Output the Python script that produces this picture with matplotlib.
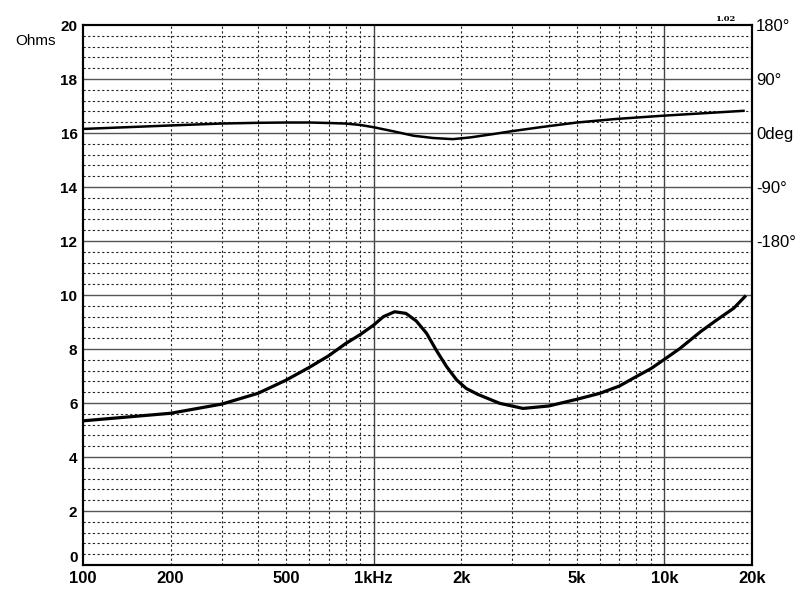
import matplotlib.pyplot as plt
import numpy as np

# impedance magnitude (ohms) vs frequency (Hz)
imp_freq = [100, 200, 300, 400, 500, 600, 700, 800, 900, 1000, 1080, 1180, 1290,
            1400, 1520, 1640, 1780, 1930, 2080, 2280, 2710, 3260, 4000, 5000, 6000,
            7000, 8000, 9000, 10000, 11300, 13300, 15100, 17300, 18900]
imp_ohms = [5.34, 5.62, 5.96, 6.36, 6.85, 7.32, 7.75, 8.20, 8.54, 8.89, 9.20, 9.38, 9.32,
            9.04, 8.58, 7.96, 7.35, 6.85, 6.54, 6.32, 5.99, 5.80, 5.89, 6.14, 6.36,
            6.63, 6.98, 7.28, 7.62, 8.02, 8.64, 9.07, 9.51, 9.94]

# phase (degrees) vs frequency (Hz)
ph_freq = [100, 200, 300, 400, 500, 600, 700, 800, 900, 1000, 1170, 1370, 1600,
           1870, 2150, 2580, 2960, 3730, 5000, 6800, 10000, 18700]
ph_deg = [6.8, 12.6, 15.8, 17.0, 17.5, 17.5, 16.7, 15.8, 13.4, 9.6, 2.8, -4.5, -8.3,
          -10.2, -7.3, -1.7, 2.8, 9.6, 17.5, 23.4, 29.0, 37.0]

x_ticks = [100, 200, 500, 1000, 2000, 5000, 10000, 20000]
x_labels = ["100", "200", "500", "1kHz", "2k", "5k", "10k", "20k"]
y_ticks = list(range(0, 21, 2))
ph_ticks = [180, 90, 0, -90, -180]
ph_labels = ["180°", "90°", "0deg", "-90°", "-180°"]

plt.rcParams['font.family'] = ['Liberation Sans', 'DejaVu Sans']

fig = plt.figure(figsize=(8, 6), dpi=100, facecolor="white")
ax = fig.add_axes([0.10375, 0.0583, 0.83625, 0.9])
ax.set_xscale("log")
ax.set_xlim(100, 20000)
ax.set_ylim(0, 20)

# grid
dot = dict(color="#222222", lw=0.8, ls=(0, (2, 2.2)), zorder=1)
for dec in [100, 1000]:
    for m in range(2, 10):
        ax.axvline(dec * m, **dot)
for v in [1000, 10000]:
    ax.axvline(v, color="#444444", lw=1.0, zorder=1)
for h in np.arange(0.4, 20, 0.4):
    if abs(h / 2 - round(h / 2)) > 0.01:
        ax.axhline(h, **dot)
for h in range(2, 20, 2):
    ax.axhline(h, color="#555555", lw=1.0, zorder=1)

ax.plot(imp_freq, imp_ohms, color="black", lw=2.3, zorder=3, solid_joinstyle="round")

ax2 = ax.twinx()
ax2.set_ylim(-720, 180)
ax2.plot(ph_freq, ph_deg, color="black", lw=1.8, zorder=3, solid_joinstyle="round")
ax2.set_yticks(ph_ticks)
ax2.set_yticklabels(ph_labels, fontsize=12)
ax2.tick_params(length=0, pad=3)

ax.set_xticks(x_ticks)
ax.set_xticklabels(x_labels, fontsize=12, fontweight="bold")
ax.xaxis.set_minor_locator(plt.NullLocator())
ax.set_yticks(y_ticks)
ax.set_yticklabels([str(t) for t in y_ticks], fontsize=11, fontweight="bold")
ax.tick_params(length=0, pad=4)
ax.get_yticklabels()[0].set_va("bottom")

for a in (ax, ax2):
    for s in a.spines.values():
        s.set_linewidth(1.5)
        s.set_color("black")

fig.text(0.019, 0.925, "Ohms", fontsize=11)
fig.text(0.894, 0.965, "1.02", fontsize=6, family="DejaVu Serif", fontweight="bold")

fig.savefig("out.png", dpi=100)
